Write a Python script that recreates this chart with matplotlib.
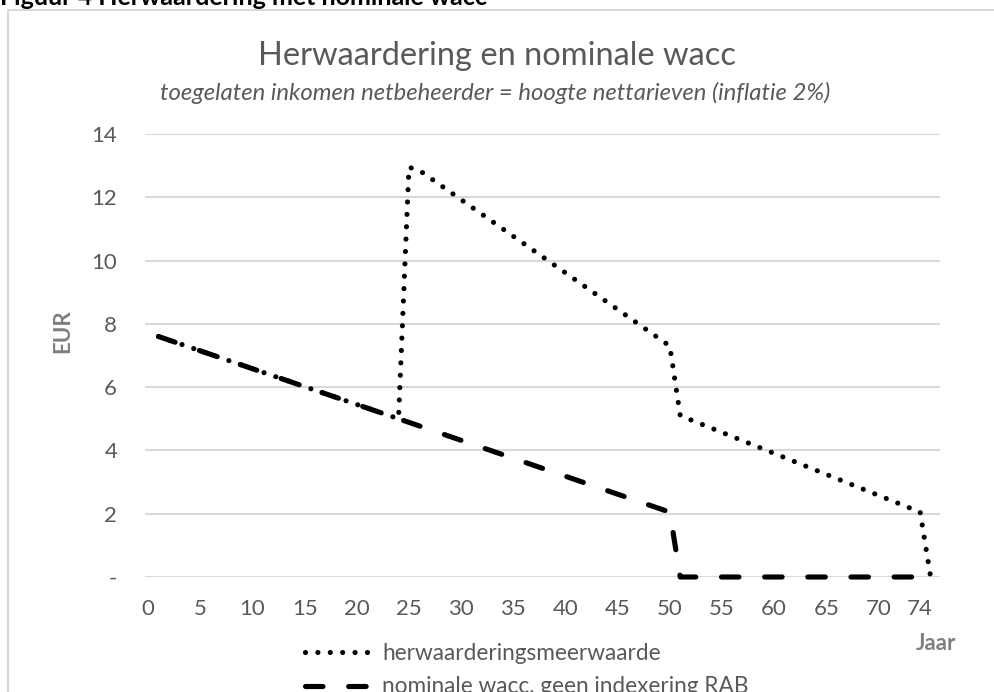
import matplotlib
matplotlib.use("Agg")
import matplotlib.pyplot as plt
from matplotlib.lines import Line2D

plt.rcParams["font.family"] = ["Lato", "DejaVu Sans"]

# years and values (corner points of each line)
years_wacc = [1, 24, 50, 51, 75]
wacc_nominaal = [7.6, 5.0, 2.05, 0.0, 0.0]

years_herw = [1, 24, 25, 26, 50, 51, 74, 75]
herwaardering = [7.6, 5.0, 12.95, 12.85, 7.3, 5.1, 2.05, 0.0]

xticks = [0, 5, 10, 15, 20, 25, 30, 35, 40, 45, 50, 55, 60, 65, 70, 74]
yticks = [0, 2, 4, 6, 8, 10, 12, 14]
ytick_labels = ["-", "2", "4", "6", "8", "10", "12", "14"]

W, H = 994, 692
fig = plt.figure(figsize=(W / 100, H / 100), dpi=100)

# chart border (cropped at the right and bottom)
border = "#d9d9d9"
fig.add_artist(Line2D([8 / W, 8 / W], [0, 1 - 10 / H], color=border, lw=1.5))
fig.add_artist(Line2D([8 / W, 1], [1 - 10 / H, 1 - 10 / H], color=border, lw=1.5))

# caption above the chart, mostly cut off like in the source
fig.text(0 / W, 1 - 5 / H, "Figuur 4 Herwaardering met nominale wacc",
         fontsize=18, fontweight="bold", color="black", ha="left", va="baseline")

ax = fig.add_axes([145 / W, 1 - 577 / H, (940 - 145) / W, (577 - 134) / H])

ax.plot(years_wacc, wacc_nominaal, color="black", lw=3.7,
        linestyle=(0, (3.4, 5.0)), dash_capstyle="round", solid_capstyle="round",
        label="nominale wacc, geen indexering RAB", zorder=3, clip_on=False)
ax.plot(years_herw, herwaardering, color="black", lw=3.7,
        linestyle=(0, (0.01, 2.4)), dash_capstyle="round",
        label="herwaarderingsmeerwaarde", zorder=4, clip_on=False)

ax.set_xlim(-0.3, 75.9)
ax.set_ylim(0, 14)
ax.set_xticks(xticks)
ax.set_yticks(yticks)
ax.set_yticklabels(ytick_labels)
ax.tick_params(length=0, labelsize=16, labelcolor="#595959")
ax.tick_params(axis="y", pad=20)
ax.tick_params(axis="x", pad=16)
ax.grid(axis="y", color="#d9d9d9", lw=1.5)
ax.set_axisbelow(True)
for s in ax.spines.values():
    s.set_visible(False)

fig.text(497 / W, 1 - 65 / H, "Herwaardering en nominale wacc",
         fontsize=23.5, color="#595959", ha="center", va="baseline")
fig.text(495 / W, 1 - 100 / H,
         "toegelaten inkomen netbeheerder = hoogte nettarieven (inflatie 2%)",
         fontsize=17.2, style="italic", color="#595959", ha="center", va="baseline")

fig.text(63 / W, 1 - 331 / H, "EUR", fontsize=16, fontweight="bold",
         color="#7f7f7f", rotation=90, ha="center", va="center")
fig.text(936 / W, 1 - 643 / H, "Jaar", fontsize=16, fontweight="bold",
         color="#7f7f7f", ha="center", va="center")

handles, labels = ax.get_legend_handles_labels()
leg = fig.legend(handles[::-1], labels[::-1], loc="upper left",
                 bbox_to_anchor=(305 / W, 1 - 643 / H), frameon=False,
                 fontsize=16.3, handlelength=2.9, handletextpad=0.5,
                 labelspacing=0.55, borderaxespad=0, borderpad=0)
for t in leg.get_texts():
    t.set_color("#595959")

fig.savefig("out.png", dpi=100)
